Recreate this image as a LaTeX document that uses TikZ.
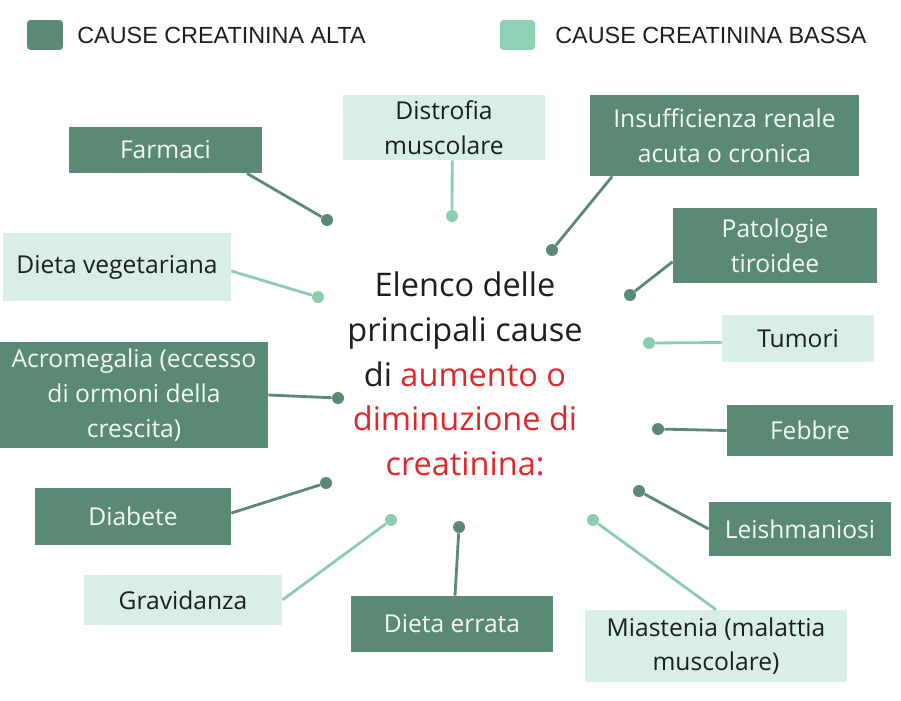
\documentclass[tikz,border=0pt]{standalone}
\usepackage{fontspec}
\setmainfont{Open Sans}
\newfontfamily\legendfont{Liberation Sans}
\usepackage{tikz}
\usetikzlibrary{positioning}
\definecolor{verdescuro}{HTML}{5A8A73}
\definecolor{verdechiaro}{HTML}{D9EEE4}
\definecolor{verdelinea}{HTML}{8CCDAF}
\definecolor{verdeleg}{HTML}{8FD1B4}
\definecolor{rosso}{HTML}{E0272A}
\definecolor{testo}{HTML}{1E1E1E}

\begin{document}
\begin{tikzpicture}[x=0.02cm, y=-0.02cm,
    alta/.style={fill=verdescuro, text=white!94!verdescuro, align=center, font=\fontsize{14}{19.8}\selectfont, inner sep=0pt},
    bassa/.style={fill=verdechiaro, text=testo, align=center, font=\fontsize{14}{19.8}\selectfont, inner sep=0pt},
    dotalta/.style={circle, fill=verdescuro, inner sep=0pt, minimum size=0.24cm},
    dotbassa/.style={circle, fill=verdelinea, inner sep=0pt, minimum size=0.24cm},
    lineaalta/.style={draw=verdescuro, line width=1.6pt},
    lineabassa/.style={draw=verdelinea, line width=1.6pt},
    legenda/.style={font=\legendfont\fontsize{13.3}{15}\selectfont, text=testo, anchor=west, inner sep=0pt}]
\useasboundingbox (0,0) rectangle (901,700);

% legenda
\node[fill=verdescuro, rounded corners=2pt, minimum width=0.72cm, minimum height=0.6cm, inner sep=0pt] (legalta) at (45,35) {};
\node[legenda] (txtalta) at (77,35) {CAUSE CREATININA ALTA};
\node[fill=verdeleg, rounded corners=2pt, minimum width=0.7cm, minimum height=0.6cm, inner sep=0pt] (legbassa) at (517.5,35) {};
\node[legenda] (txtbassa) at (555,35) {CAUSE CREATININA BASSA};

% testo centrale
\node[align=center, text=testo, font=\fontsize{18.5}{25.5}\selectfont] (centro) at (465,374)
    {Elenco delle\\ principali cause\\ di \textcolor{rosso}{aumento o}\\ \textcolor{rosso}{diminuzione di}\\ \textcolor{rosso}{creatinina:}};

% riquadri
\node[alta, minimum width=3.86cm, minimum height=0.92cm] (farmaci) at (165.5,150) {Farmaci};
\node[bassa, minimum width=4.04cm, minimum height=1.3cm] (distrofia) at (444,127.5) {Distrofia\\ muscolare};
\node[alta, minimum width=5.38cm, minimum height=1.62cm] (insufficienza) at (724.5,135.5) {Insufficienza renale\\ acuta o cronica};
\node[alta, minimum width=4.08cm, minimum height=1.5cm] (patologie) at (775,245.5) {Patologie\\ tiroidee};
\node[bassa, minimum width=4.56cm, minimum height=1.36cm] (dietaveg) at (117,267) {Dieta vegetariana};
\node[bassa, minimum width=3.04cm, minimum height=0.94cm] (tumori) at (798,338.5) {Tumori};
\node[alta, minimum width=5.36cm, minimum height=2.12cm] (acromegalia) at (134,395) {Acromegalia (eccesso\\ di ormoni della\\ crescita)};
\node[alta, minimum width=3.32cm, minimum height=1.02cm] (febbre) at (810,430.5) {Febbre};
\node[alta, minimum width=3.92cm, minimum height=1.14cm] (diabete) at (133,516.5) {Diabete};
\node[bassa, minimum width=3.96cm, minimum height=1.0cm] (gravidanza) at (183,600) {Gravidanza};
\node[alta, minimum width=4.04cm, minimum height=1.12cm] (dietaerr) at (452,624) {Dieta errata};
\node[alta, minimum width=3.64cm, minimum height=1.08cm] (leish) at (800,529) {Leishmaniosi};
\node[bassa, minimum width=5.24cm, minimum height=1.44cm] (miastenia) at (716,646) {Miastenia (malattia\\ muscolare)};

% punti
\node[dotalta] (dfarmaci) at (327,220) {};
\node[dotbassa] (ddistrofia) at (452,216) {};
\node[dotalta] (dinsufficienza) at (552,250) {};
\node[dotalta] (dpatologie) at (630,295) {};
\node[dotbassa] (ddietaveg) at (318,297) {};
\node[dotbassa] (dtumori) at (649,343) {};
\node[dotalta] (dacromegalia) at (338,398) {};
\node[dotalta] (dfebbre) at (658,429) {};
\node[dotalta] (ddiabete) at (326,483) {};
\node[dotbassa] (dgravidanza) at (391,520) {};
\node[dotalta] (ddietaerr) at (459,527) {};
\node[dotalta] (dleish) at (639,491) {};
\node[dotbassa] (dmiastenia) at (593,520) {};

% collegamenti
\draw[lineaalta] (farmaci.-16) -- (dfarmaci);
\draw[lineabassa] (distrofia.-76) -- (ddistrofia);
\draw[lineaalta] (insufficienza.-160) -- (dinsufficienza);
\draw[lineaalta] (patologie.-171) -- (dpatologie);
\draw[lineabassa] (dietaveg.-2) -- (ddietaveg);
\draw[lineabassa] (tumori.183) -- (dtumori);
\draw[lineaalta] (acromegalia.east) -- (dacromegalia);
\draw[lineaalta] (febbre.west) -- (dfebbre);
\draw[lineaalta] (diabete.2) -- (ddiabete);
\draw[lineabassa] (gravidanza.east) -- (dgravidanza);
\draw[lineaalta] (dietaerr.84) -- (ddietaerr);
\draw[lineaalta] (leish.west) -- (dleish);
\draw[lineabassa] (miastenia.north) -- (dmiastenia);
\end{tikzpicture}
\end{document}
